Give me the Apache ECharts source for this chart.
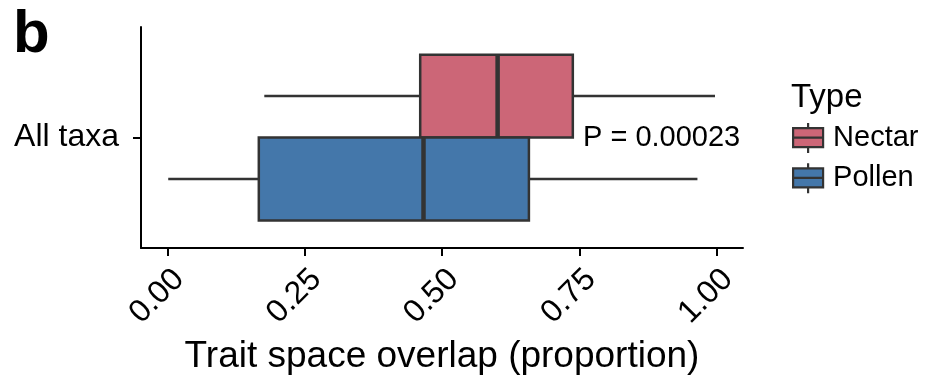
<!DOCTYPE html>
<html>
<head>
<meta charset="utf-8">
<script src="https://cdn.jsdelivr.net/npm/echarts@6/dist/echarts.min.js"></script>
<style>
html,body{margin:0;padding:0;background:#fff;}
#chart{width:932px;height:382px;}
</style>
</head>
<body>
<div id="chart"></div>
<script>
// ---- data ----
const categories = ['All taxa'];
const seriesNames = ['Nectar', 'Pollen'];
// [min, Q1, median, Q3, max]
const nectarStats = [0.176, 0.460, 0.601, 0.738, 0.997];
const pollenStats = [0.001, 0.166, 0.466, 0.658, 0.965];
const xTicks = [0, 0.25, 0.5, 0.75, 1.0];
const pLabel = 'P = 0.00023';

const colors = {Nectar: '#CC6677', Pollen: '#4477AA'};
const FONT = "'Liberation Sans', Arial, Helvetica, sans-serif";
const LINE = '#333333';

function makeRender(offset, fillColor) {
  return function (params, api) {
    const cat = api.value(0);
    const band = api.size([0, 1])[1];
    const cy = api.coord([0, cat])[1] + offset * band;
    const h = 0.375 * band;
    const xs = [1, 2, 3, 4, 5].map(i => api.coord([api.value(i), cat])[0]);
    return {
      type: 'group',
      children: [
        {type: 'line', shape: {x1: xs[0], y1: cy, x2: xs[1], y2: cy}, style: {stroke: LINE, lineWidth: 2.5}},
        {type: 'line', shape: {x1: xs[3], y1: cy, x2: xs[4], y2: cy}, style: {stroke: LINE, lineWidth: 2.5}},
        {type: 'rect', shape: {x: xs[1], y: cy - h / 2, width: xs[3] - xs[1], height: h},
          style: {fill: fillColor, stroke: LINE, lineWidth: 2.5}},
        {type: 'line', shape: {x1: xs[2], y1: cy - h / 2, x2: xs[2], y2: cy + h / 2},
          style: {stroke: LINE, lineWidth: 4.5}}
      ]
    };
  };
}

const legendIcon = 'path://M15 0 L15 5 M0 5 L30 5 L30 24 L0 24 Z M0 14.5 L30 14.5 M15 24 L15 30';

const chart = echarts.init(document.getElementById('chart'), null, {renderer: 'canvas'});
chart.setOption({
  animation: false,
  backgroundColor: '#ffffff',
  textStyle: {fontFamily: FONT},
  title: [{
    text: 'b', left: 8, top: 0,
    textStyle: {fontFamily: FONT, fontSize: 60, fontWeight: 'bold', color: '#000'}
  }],
  grid: {left: 141, right: 189, top: 27, bottom: 134, containLabel: false},
  xAxis: {
    type: 'value',
    min: -0.0486, max: 1.048,
    name: 'Trait space overlap (proportion)',
    nameLocation: 'middle',
    nameGap: 90,
    nameTextStyle: {fontFamily: FONT, fontSize: 37, color: '#000'},
    axisLine: {show: true, onZero: false, lineStyle: {color: '#000', width: 2}},
    axisTick: {show: true, length: 8, lineStyle: {color: '#000', width: 2}, customValues: xTicks},
    axisLabel: {
      customValues: xTicks,
      rotate: 45, align: 'right', verticalAlign: 'top', margin: 15,
      fontFamily: FONT, fontSize: 32, color: '#000',
      formatter: v => v.toFixed(2)
    },
    splitLine: {show: false}
  },
  yAxis: {
    type: 'category',
    data: categories,
    axisLine: {show: true, onZero: false, lineStyle: {color: '#000', width: 2}},
    axisTick: {show: true, alignWithLabel: true, length: 8, lineStyle: {color: '#000', width: 2}},
    axisLabel: {fontFamily: FONT, fontSize: 32, color: '#000', margin: 22},
    splitLine: {show: false}
  },
  legend: {
    orient: 'vertical',
    left: 792, top: 122,
    padding: 0,
    itemWidth: 30, itemHeight: 30, itemGap: 8,
    textStyle: {fontFamily: FONT, fontSize: 29, color: '#000', padding: [0, 0, 0, 5]},
    data: seriesNames.map(n => ({
      name: n, icon: legendIcon,
      itemStyle: {color: colors[n], borderColor: LINE, borderWidth: 2.2}
    }))
  },
  graphic: [
    {type: 'text', left: 791, top: 81,
      style: {text: 'Type', fontFamily: FONT, fontSize: 33, fill: '#000'}},
    {type: 'text', x: 583, y: 137.5,
      style: {text: pLabel, fontFamily: FONT, fontSize: 29, fill: '#000', verticalAlign: 'middle', align: 'left'}}
  ],
  series: [
    {
      name: 'Nectar', type: 'custom',
      itemStyle: {color: colors.Nectar},
      renderItem: makeRender(-0.1875, colors.Nectar),
      encode: {x: [1, 2, 3, 4, 5], y: 0},
      data: categories.map((c, i) => [i].concat(nectarStats))
    },
    {
      name: 'Pollen', type: 'custom',
      itemStyle: {color: colors.Pollen},
      renderItem: makeRender(0.1875, colors.Pollen),
      encode: {x: [1, 2, 3, 4, 5], y: 0},
      data: categories.map((c, i) => [i].concat(pollenStats))
    }
  ]
});
</script>
</body>
</html>
